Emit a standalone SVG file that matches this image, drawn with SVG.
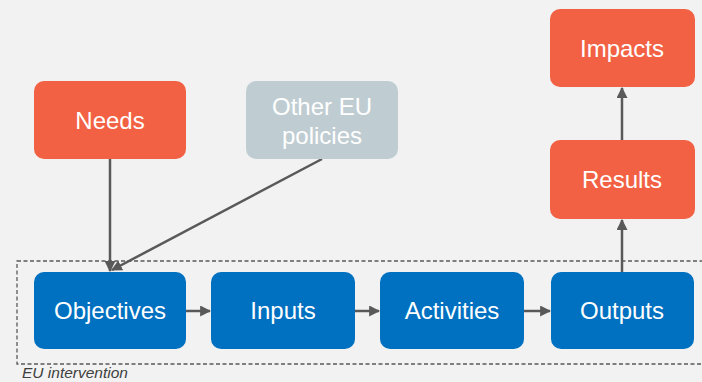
<svg xmlns="http://www.w3.org/2000/svg" width="702" height="382" viewBox="0 0 702 382">
<style>
.n{stroke:none}
.o{fill:#f26144}
.b{fill:#0070c0}
.g{fill:#bfcdd2}
.t{font-family:"Liberation Sans",Arial,sans-serif;font-size:24px;fill:#ffffff;text-anchor:middle}
.c{stroke:#595959;stroke-width:2.5;fill:none}
</style>
<defs>
<marker id="ah" viewBox="0 0 10 10" refX="9" refY="5" markerWidth="4.4" markerHeight="4.4" orient="auto" markerUnits="strokeWidth">
<path d="M0,0 L10,5 L0,10 z" fill="#595959"/>
</marker>
</defs>
<rect width="702" height="382" fill="#f2f2f2"/>
<g id="eu-intervention">
<rect x="17" y="261" width="700" height="103" fill="none" stroke="#595959" stroke-width="1.3" stroke-dasharray="4,2.5"/>
<text x="22" y="378" font-family="'Liberation Sans',Arial,sans-serif" font-size="15.5" font-style="italic" fill="#404040">EU intervention</text>
</g>
<g id="connectors">
<line class="c" x1="110" y1="159" x2="110" y2="271" marker-end="url(#ah)"/>
<line class="c" x1="322" y1="159" x2="112" y2="270" marker-end="url(#ah)"/>
<line class="c" x1="186" y1="311" x2="210" y2="311" marker-end="url(#ah)"/>
<line class="c" x1="355" y1="311" x2="379" y2="311" marker-end="url(#ah)"/>
<line class="c" x1="524" y1="311" x2="550" y2="311" marker-end="url(#ah)"/>
<line class="c" x1="622" y1="272" x2="622" y2="220" marker-end="url(#ah)"/>
<line class="c" x1="622" y1="140" x2="622" y2="88" marker-end="url(#ah)"/>
</g>
<g id="needs"><rect class="o" x="34" y="81" width="152" height="78" rx="10"/><text class="t" x="110" y="129">Needs</text></g>
<g id="other-eu-policies"><rect class="g" x="246" y="81" width="152" height="78" rx="10"/><text class="t" x="322" y="115">Other EU</text><text class="t" x="322" y="144">policies</text></g>
<g id="impacts"><rect class="o" x="550" y="9" width="145" height="78" rx="10"/><text class="t" x="622" y="57">Impacts</text></g>
<g id="results"><rect class="o" x="550" y="140" width="145" height="79" rx="10"/><text class="t" x="622" y="188">Results</text></g>
<g id="objectives"><rect class="b" x="34" y="272" width="152" height="77" rx="10"/><text class="t" x="110" y="319">Objectives</text></g>
<g id="inputs"><rect class="b" x="211" y="272" width="144" height="77" rx="10"/><text class="t" x="283" y="319">Inputs</text></g>
<g id="activities"><rect class="b" x="380" y="272" width="144" height="77" rx="10"/><text class="t" x="452" y="319">Activities</text></g>
<g id="outputs"><rect class="b" x="551" y="272" width="143" height="77" rx="10"/><text class="t" x="622" y="319">Outputs</text></g>
</svg>
